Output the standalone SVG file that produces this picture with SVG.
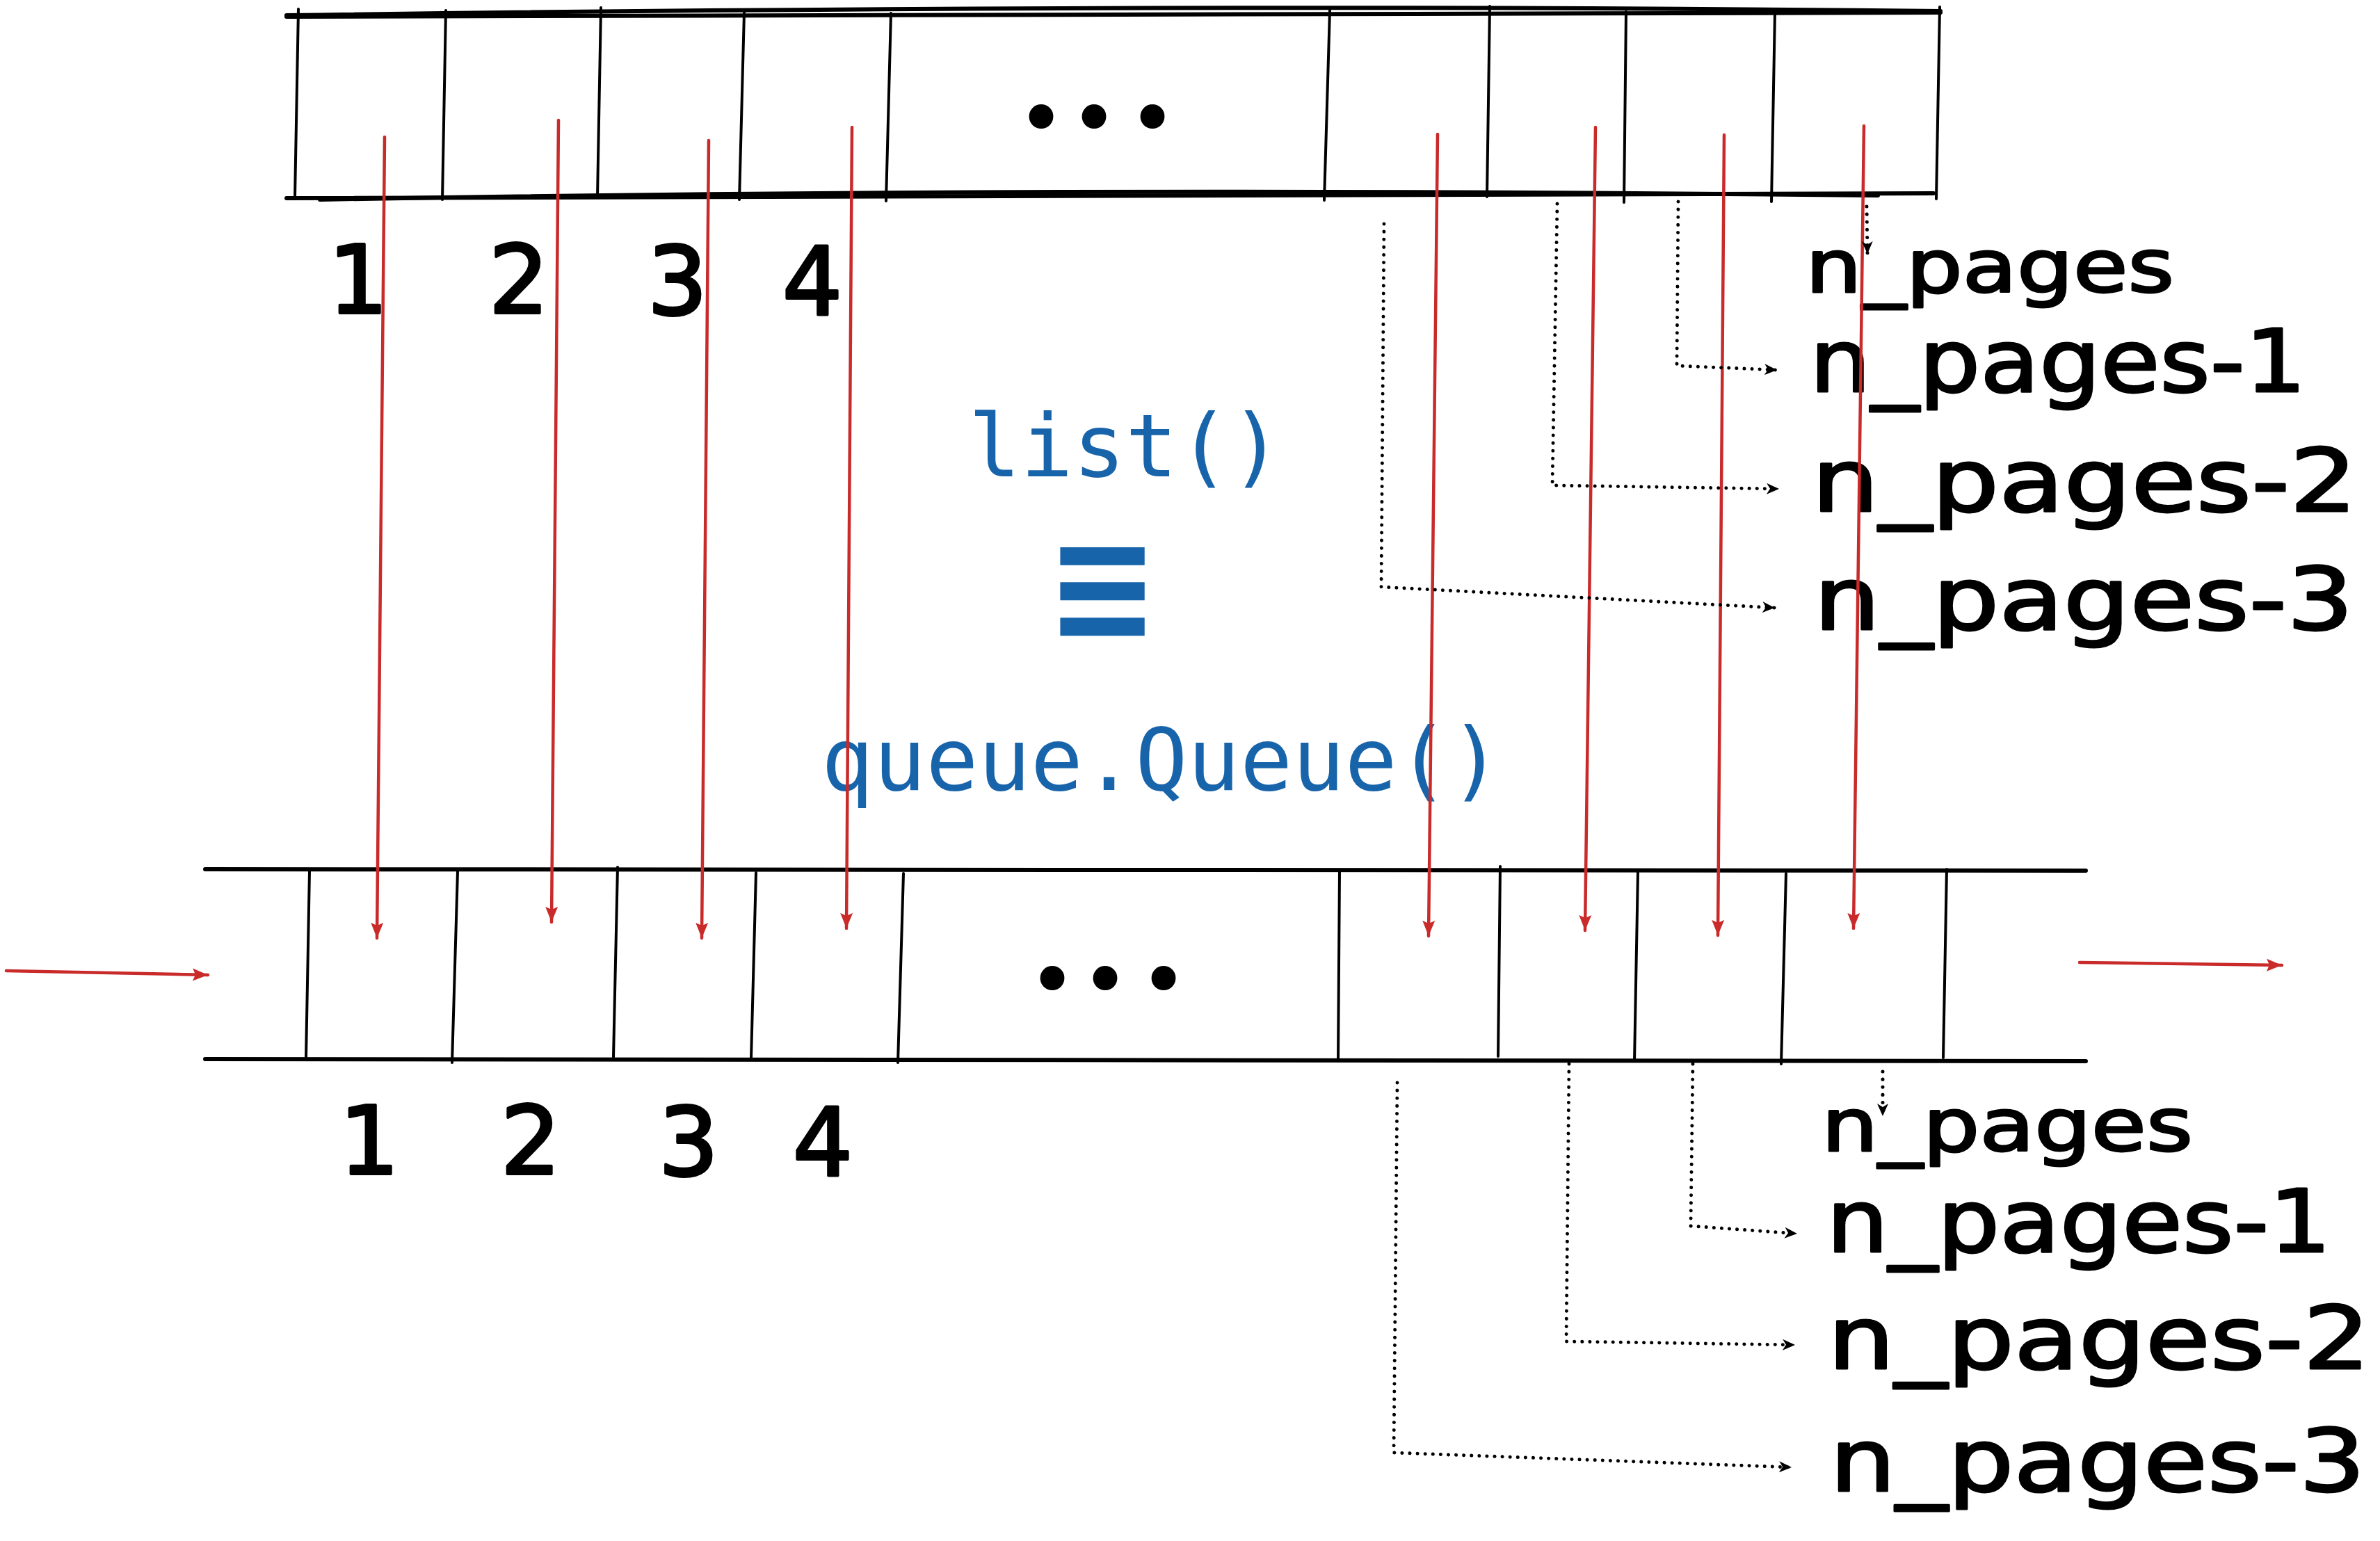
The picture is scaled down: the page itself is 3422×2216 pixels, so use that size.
<svg xmlns="http://www.w3.org/2000/svg" width="3422" height="2216" viewBox="0 0 3422 2216">
<defs>
<style>
.bg{fill:#ffffff}
.edge{fill:none;stroke:#000;stroke-width:6;stroke-linecap:round}
.div{fill:none;stroke:#000;stroke-width:4;stroke-linecap:round}
.red{fill:none;stroke:#c92a2a;stroke-width:4.5;stroke-linecap:round}
.dot{fill:none;stroke:#000;stroke-width:5;stroke-linecap:round;stroke-dasharray:0.1 11}
.num{font-family:"DejaVu Sans",sans-serif;font-size:136px;fill:#000;stroke:#000;stroke-width:4;stroke-linejoin:round;text-anchor:middle}
.lbl{font-family:"DejaVu Sans",sans-serif;fill:#000;stroke:#000;stroke-width:3;stroke-linejoin:round}
.big{font-size:124px}
.small{font-size:106px}
.code{font-family:"DejaVu Sans Mono","Liberation Mono",monospace;font-size:125px;fill:#1864ab;text-anchor:middle}
.ell{font-family:"Liberation Serif",serif;font-weight:bold;font-size:190px;fill:#000;stroke:#000;stroke-width:4;text-anchor:middle}
</style>
<marker id="ra" markerUnits="userSpaceOnUse" markerWidth="26" markerHeight="22" refX="22" refY="11" orient="auto">
<path d="M0,2 L22,11 L0,20 L4,11 z" fill="#c92a2a"/>
</marker>
<marker id="ba" markerUnits="userSpaceOnUse" markerWidth="22" markerHeight="20" refX="18" refY="10" orient="auto">
<path d="M0,2 L18,10 L0,18 L5,10 z" fill="#000"/>
</marker>
</defs>
<rect class="bg" x="0" y="0" width="3422" height="2216"/>

<g id="list-box">
<path class="edge" d="M412,24 L2790,18"/>
<path class="edge" d="M412,22 Q1700,4 2790,16" stroke-width="4"/>
<path class="edge" d="M412,285 L2780,278"/>
<path class="edge" d="M460,287 Q1500,268 2700,281" stroke-width="4"/>
<path class="div" d="M429,13 L424,285"/>
<path class="div" d="M641,15 L636,287"/>
<path class="div" d="M864,11 L859,283"/>
<path class="div" d="M1070,18 L1063,287"/>
<path class="div" d="M1281,19 L1274,289"/>
<path class="div" d="M1912,15 L1904,288"/>
<path class="div" d="M2142,9 L2138,283"/>
<path class="div" d="M2338,17 L2335,291"/>
<path class="div" d="M2552,17 L2547,290"/>
<path class="div" d="M2789,10 L2784,286"/>
<text class="ell" x="1497 1573 1657" y="180">...</text>
</g>

<g id="list-indices">
<text class="num" x="515" y="450">1</text>
<text class="num" x="746" y="450">2</text>
<text class="num" x="974" y="452">3</text>
<text class="num" x="1168" y="452">4</text>
</g>

<g id="list-labels">
<text class="lbl small" x="2596" y="420" textLength="530" lengthAdjust="spacingAndGlyphs">n_pages</text>
<text class="lbl big" x="2602" y="563" textLength="714" lengthAdjust="spacingAndGlyphs">n_pages-1</text>
<text class="lbl big" x="2605" y="735" textLength="784" lengthAdjust="spacingAndGlyphs">n_pages-2</text>
<text class="lbl big" x="2608" y="905" textLength="776" lengthAdjust="spacingAndGlyphs">n_pages-3</text>
</g>

<g id="equivalence">
<text class="code" x="1618" y="685">list()</text>
<text class="code" x="0" y="0" font-size="360" font-weight="bold" transform="translate(1585,921) scale(1.88,1.8)">≡</text>
<text class="code" x="1670" y="1136">queue.Queue()</text>
</g>

<g id="queue-box">
<path class="edge" d="M295,1250 L2999,1252"/>
<path class="edge" d="M295,1523 L2999,1526"/>
<path class="div" d="M445,1253 L440,1521"/>
<path class="div" d="M658,1253 L650,1528"/>
<path class="div" d="M888,1247 L882,1520"/>
<path class="div" d="M1087,1255 L1080,1522"/>
<path class="div" d="M1299,1256 L1291,1528"/>
<path class="div" d="M1926,1253 L1924,1523"/>
<path class="div" d="M2157,1246 L2154,1519"/>
<path class="div" d="M2355,1254 L2350,1526"/>
<path class="div" d="M2568,1256 L2561,1530"/>
<path class="div" d="M2799,1250 L2794,1521"/>
<text class="ell" x="1513 1589 1673" y="1419">...</text>
</g>

<g id="queue-indices">
<text class="num" x="531" y="1688">1</text>
<text class="num" x="763" y="1688">2</text>
<text class="num" x="990" y="1690">3</text>
<text class="num" x="1183" y="1690">4</text>
</g>

<g id="queue-labels">
<text class="lbl small" x="2619" y="1655" textLength="534" lengthAdjust="spacingAndGlyphs">n_pages</text>
<text class="lbl big" x="2626" y="1800" textLength="726" lengthAdjust="spacingAndGlyphs">n_pages-1</text>
<text class="lbl big" x="2628" y="1968" textLength="780" lengthAdjust="spacingAndGlyphs">n_pages-2</text>
<text class="lbl big" x="2631" y="2144" textLength="770" lengthAdjust="spacingAndGlyphs">n_pages-3</text>
</g>

<g id="connectors">
<path class="red" d="M553,197 L542,1349" marker-end="url(#ra)"/>
<path class="red" d="M803,173 L793,1326" marker-end="url(#ra)"/>
<path class="red" d="M1019,202 L1009,1349" marker-end="url(#ra)"/>
<path class="red" d="M1225,183 L1217,1335" marker-end="url(#ra)"/>
<path class="red" d="M2067,193 L2054,1346" marker-end="url(#ra)"/>
<path class="red" d="M2294,183 L2279,1338" marker-end="url(#ra)"/>
<path class="red" d="M2479,194 L2470,1345" marker-end="url(#ra)"/>
<path class="red" d="M2680,181 L2665,1335" marker-end="url(#ra)"/>
<path class="red" d="M9,1396 L299,1402" marker-end="url(#ra)" stroke-width="5.5"/>
<path class="red" d="M2990,1384 L3281,1388" marker-end="url(#ra)" stroke-width="5.5"/>

<path class="dot" d="M1990,322 L1986,844 L2552,874" marker-end="url(#ba)"/>
<path class="dot" d="M2239,293 L2232,698 L2558,703" marker-end="url(#ba)"/>
<path class="dot" d="M2413,290 L2411,526 L2555,532" marker-end="url(#ba)"/>
<path class="dot" d="M2684,297 L2685,365" marker-end="url(#ba)"/>

<path class="dot" d="M2009,1557 L2004,2089 L2576,2110" marker-end="url(#ba)"/>
<path class="dot" d="M2256,1530 L2252,1929 L2581,1934" marker-end="url(#ba)"/>
<path class="dot" d="M2434,1530 L2431,1763 L2584,1774" marker-end="url(#ba)"/>
<path class="dot" d="M2707,1541 L2707,1605" marker-end="url(#ba)"/>
</g>
</svg>
